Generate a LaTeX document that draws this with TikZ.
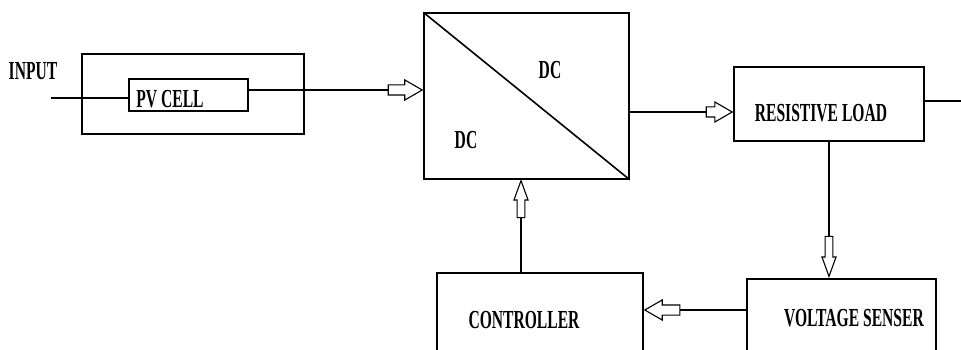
\documentclass[tikz,border=0pt]{standalone}
\usepackage{fontspec}
\usepackage{graphicx}
\setmainfont{Liberation Serif}
\usetikzlibrary{shapes.arrows}
\tikzset{
  box/.style={draw, line width=1.4pt, inner sep=0pt, fill=white},
  lbl/.style={inner sep=0pt, font=\fontsize{26}{28}\selectfont\bfseries},
  wire/.style={line width=1.4pt},
  blockarrow/.style={single arrow, draw, line width=1.1pt, fill=white,
    inner sep=4.5pt,
    minimum height=#1, minimum width=19pt, single arrow head extend=5pt,
    single arrow tip angle=60, anchor=tip},
  vblockarrow/.style={blockarrow=#1, inner sep=3.3pt, minimum width=13pt,
    single arrow head extend=3.2pt, single arrow tip angle=40}
}
\newcommand{\sq}[1]{\scalebox{0.6}[1]{#1}}
\begin{document}
\begin{tikzpicture}[x=1pt, y=-1pt]
\clip (0,0) rectangle (961,350);
\fill[white] (0,0) rectangle (961,350);

% boxes
\node[box, minimum width=222pt, minimum height=80pt] (outer) at (193,94) {};
\node[box, minimum width=119pt, minimum height=32pt] (pv) at (188.5,95) {};
\node[box, minimum width=205pt, minimum height=166pt] (dc) at (526.5,96) {};
\node[box, minimum width=190pt, minimum height=74pt] (rl) at (829,104) {};
\node[box, minimum width=189pt, minimum height=76pt] (vs) at (841.5,317) {};
\node[box, minimum width=206pt, minimum height=82pt] (ctl) at (540,314) {};

% texts
\node[lbl] (tin) at (33,71) {\sq{INPUT}};
\node[lbl] (tpv) at (170,99) {\sq{PV CELL}};
\node[lbl] (tdc1) at (550,70) {\sq{DC}};
\node[lbl] (tdc2) at (466,140) {\sq{DC}};
\node[lbl] (trl) at (821,113) {\sq{RESISTIVE LOAD}};
\node[lbl] (tvs) at (854,318) {\sq{VOLTAGE SENSER}};
\node[lbl] (tctl) at (524,320) {\sq{CONTROLLER}};

% diagonal in converter
\draw[wire, line width=1.6pt] (dc.north west) -- (dc.south east);

% block arrows
\node[blockarrow=34pt, shape border rotate=0] (a1) at (dc.west |- 0,90) {};
\node[blockarrow=26pt, shape border rotate=0] (a2) at (rl.west |- 0,112) {};
\node[vblockarrow=40pt, shape border rotate=270] (a3) at (829,278) {};
\node[blockarrow=35pt, shape border rotate=180] (a4) at (ctl.east |- 0,310) {};
\node[vblockarrow=37pt, shape border rotate=90] (a5) at (521,179) {};

% connectors
\coordinate (inp) at (51,98);
\coordinate (outp) at (961,101);
\draw[wire] (inp) -- (inp -| pv.west);
\draw[wire] (pv.east |- a1.tail) -- (a1.tail);
\draw[wire] (dc.east |- a2.tail) -- (a2.tail);
\draw[wire] (rl.east |- outp) -- (outp);
\draw[wire] (rl.south -| a3.tail) -- (a3.tail);
\draw[wire] (vs.west |- a4.tail) -- (a4.tail);
\draw[wire] (ctl.north -| a5.tail) -- (a5.tail);
\end{tikzpicture}
\end{document}
